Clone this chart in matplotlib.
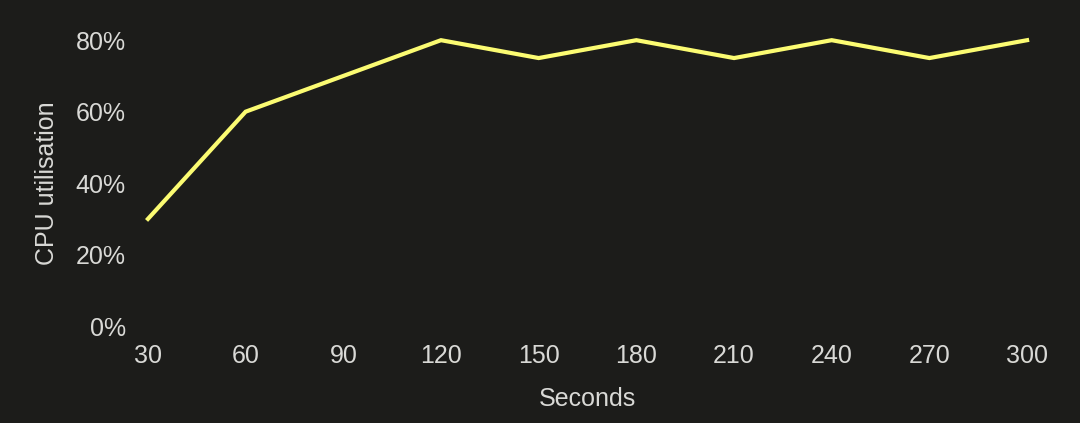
import matplotlib

matplotlib.use("Agg")

import matplotlib.pyplot as plt  # noqa: E402
from matplotlib.ticker import FuncFormatter  # noqa: E402

BG = "#1c1c1a"
TEXT = "#d9d9d6"
LINE = "#fbfb72"

seconds = [30, 60, 90, 120, 150, 180, 210, 240, 270, 300]
cpu_pct = [30, 60, 70, 80, 75, 80, 75, 80, 75, 80]
y_ticks = [0, 20, 40, 60, 80]

plt.rcParams["font.family"] = ["Liberation Sans", "DejaVu Sans"]

fig = plt.figure(figsize=(10.8, 4.23), dpi=100, facecolor=BG)
ax = fig.add_axes([0.137, 0.229, 0.814, 0.676], facecolor=BG)

ax.plot(seconds, cpu_pct, color=LINE, linewidth=3, clip_on=False,
        solid_joinstyle="miter")

ax.set_xlim(seconds[0], seconds[-1])
ax.set_ylim(0, 80)
ax.set_xticks(seconds)
ax.set_yticks(y_ticks)
ax.yaxis.set_major_formatter(FuncFormatter(lambda v, _: f"{v:.0f}%"))

for spine in ax.spines.values():
    spine.set_visible(False)
ax.tick_params(axis="both", length=0, labelsize=18, labelcolor=TEXT)
ax.tick_params(axis="x", pad=13)
ax.tick_params(axis="y", pad=16)

ax.set_xlabel("Seconds", color=TEXT, fontsize=18, labelpad=13.5)
ax.set_ylabel("CPU utilisation", color=TEXT, fontsize=18, labelpad=12)

fig.savefig("out.png", dpi=100, facecolor=BG)
